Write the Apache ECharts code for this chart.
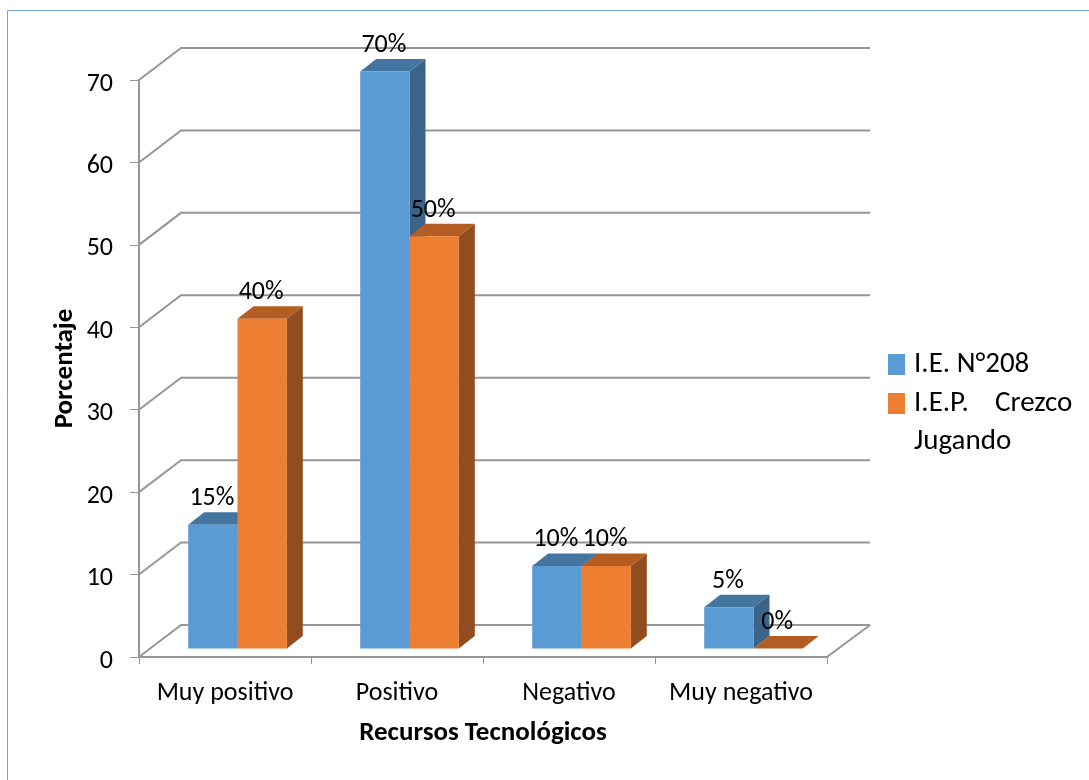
<!DOCTYPE html>
<html>
<head>
<meta charset="utf-8">
<style>html,body{margin:0;padding:0;background:#fff}#c{width:1089px;height:780px}</style>
<script src="https://cdn.jsdelivr.net/npm/echarts@6/dist/echarts.min.js"></script>
</head>
<body>
<div id="c"></div>
<script>
const categories = ['Muy positivo', 'Positivo', 'Negativo', 'Muy negativo'];
const seriesNames = ['I.E. N°208', 'I.E.P.    Crezco Jugando'];
const ie208 = [15, 70, 10, 5];
const crezco = [40, 50, 10, 0];
const yTicks = [0, 10, 20, 30, 40, 50, 60, 70];

const FONT = 'Carlito, Lato, "Open Sans", sans-serif';
const WALL = [43, -32];       // depth of the floor / back wall
const BAR_FRONT = [12.5, -8.6]; // bar's front face inside the depth
const BAR_DEPTH = [16, -12.5];
const BAR_SHARE = 49.3 / 172;
const LINE = '#969696';

function barRender(seriesIndex, front, top, side) {
  return function (params, api) {
    const base = api.coord([api.value(0), 0]);
    const tip = api.coord([api.value(0), api.value(1)]);
    const w = api.size([1, 0])[0] * BAR_SHARE;
    const x0 = base[0] + BAR_FRONT[0] + (seriesIndex - 1) * w;
    const x1 = x0 + w;
    const yb = base[1] + BAR_FRONT[1];
    const yt = tip[1] + BAR_FRONT[1];
    const dx = BAR_DEPTH[0], dy = BAR_DEPTH[1];
    const poly = (points, fill) => ({ type: 'polygon', shape: { points }, style: { fill } });
    return {
      type: 'group',
      children: [
        poly([[x1, yb], [x1 + dx, yb + dy], [x1 + dx, yt + dy], [x1, yt]], side),
        poly([[x0, yt], [x0 + dx, yt + dy], [x1 + dx, yt + dy], [x1, yt]], top),
        poly([[x0, yb], [x1, yb], [x1, yt], [x0, yt]], front)
      ]
    };
  };
}
function labelRender(seriesIndex) {
  return function (params, api) {
    const base = api.coord([api.value(0), 0]);
    const tip = api.coord([api.value(0), api.value(1)]);
    const w = api.size([1, 0])[0] * BAR_SHARE;
    const x0 = base[0] + BAR_FRONT[0] + (seriesIndex - 1) * w;
    return {
      type: 'text',
      style: {
        text: api.value(1) + '%', x: x0 + w / 2 - 1, y: tip[1] + BAR_FRONT[1] - 26,
        align: 'center', verticalAlign: 'middle', font: '26px ' + FONT, fill: '#000'
      }
    };
  };
}
function wallRender(params, api) {
  const cs = params.coordSys;
  const y = api.coord([0, api.value(1)])[1];
  const xL = cs.x, xR = cs.x + cs.width;
  const pts = [[xL, y], [xL + 42, y + WALL[1]], [xR + WALL[0], y + WALL[1]]];
  const kids = [{ type: 'polyline', shape: { points: pts }, style: { fill: 'none', stroke: LINE, lineWidth: 2 } }];
  if (api.value(1) === 0) {
    kids.push({ type: 'line', shape: { x1: xR, y1: y, x2: xR + WALL[0], y2: y + WALL[1] }, style: { stroke: LINE, lineWidth: 2 } });
  }
  return { type: 'group', children: kids };
}
const toPairs = arr => arr.map((v, i) => [i, v]);

const chart = echarts.init(document.getElementById('c'));
chart.setOption({
  animation: false,
  backgroundColor: '#fff',
  textStyle: { fontFamily: FONT },
  grid: { left: 139, top: 80, width: 688, height: 577 },
  legend: {
    left: 883, top: 345, orient: 'vertical', itemWidth: 17, itemHeight: 21, itemGap: 10, icon: 'rect',
    data: seriesNames,
    formatter: n => n.replace(' Jugando', ''),
    textStyle: { fontSize: 29, lineHeight: 21, color: '#000', fontFamily: FONT, padding: [0, 0, 0, 4] }
  },
  xAxis: {
    type: 'category', data: categories,
    name: 'Recursos Tecnológicos', nameLocation: 'middle', nameGap: 63, nameMoveOverlap: false,
    nameTextStyle: { fontSize: 27, fontWeight: 'bold', color: '#000', fontFamily: FONT },
    axisLine: { lineStyle: { color: LINE, width: 2 } },
    axisTick: { show: true, interval: 0, length: 7, lineStyle: { color: LINE, width: 1 } },
    axisLabel: { fontSize: 26, interval: 0, color: '#000', margin: 23, fontFamily: FONT }
  },
  yAxis: {
    type: 'value', min: 0, max: 70, interval: 10,
    name: 'Porcentaje', nameLocation: 'middle', nameGap: 60, nameMoveOverlap: false,
    nameTextStyle: { fontSize: 27, fontWeight: 'bold', color: '#000', fontFamily: FONT },
    axisLine: { show: true, lineStyle: { color: LINE, width: 2 } },
    axisTick: { show: true, length: 9, lineStyle: { color: LINE, width: 1 } },
    axisLabel: { fontSize: 26, color: '#000', margin: 26, fontFamily: FONT, verticalAlign: 'top', lineHeight: 8 },
    splitLine: { show: false }
  },
  graphic: [
    { type: 'polyline', shape: { points: [[1089, 10.5], [7.5, 10.5], [7.5, 780]] }, style: { fill: 'none', stroke: '#6fa8dc', lineWidth: 1 } },
    { type: 'text', left: 914, top: 427, style: { text: 'Jugando', font: '29px ' + FONT, fill: '#000' } }
  ],
  series: [
    { type: 'custom', name: 'wall', silent: true, z: 1, data: yTicks.map(t => [0, t]), renderItem: wallRender, encode: { x: 0, y: 1 } },
    { type: 'custom', name: seriesNames[0], z: 2, itemStyle: { color: '#5b9bd5' }, data: toPairs(ie208), encode: { x: 0, y: 1 }, renderItem: barRender(0, '#5b9bd5', '#4475a0', '#3b6488') },
    { type: 'custom', name: seriesNames[1], z: 3, itemStyle: { color: '#ed7d31' }, data: toPairs(crezco), encode: { x: 0, y: 1 }, renderItem: barRender(1, '#ed7d31', '#b35d22', '#914d1f') },
    { type: 'custom', name: 'labels0', silent: true, z: 5, data: toPairs(ie208), encode: { x: 0, y: 1 }, renderItem: labelRender(0) },
    { type: 'custom', name: 'labels1', silent: true, z: 5, data: toPairs(crezco), encode: { x: 0, y: 1 }, renderItem: labelRender(1) }
  ]
});
</script>
</body>
</html>
